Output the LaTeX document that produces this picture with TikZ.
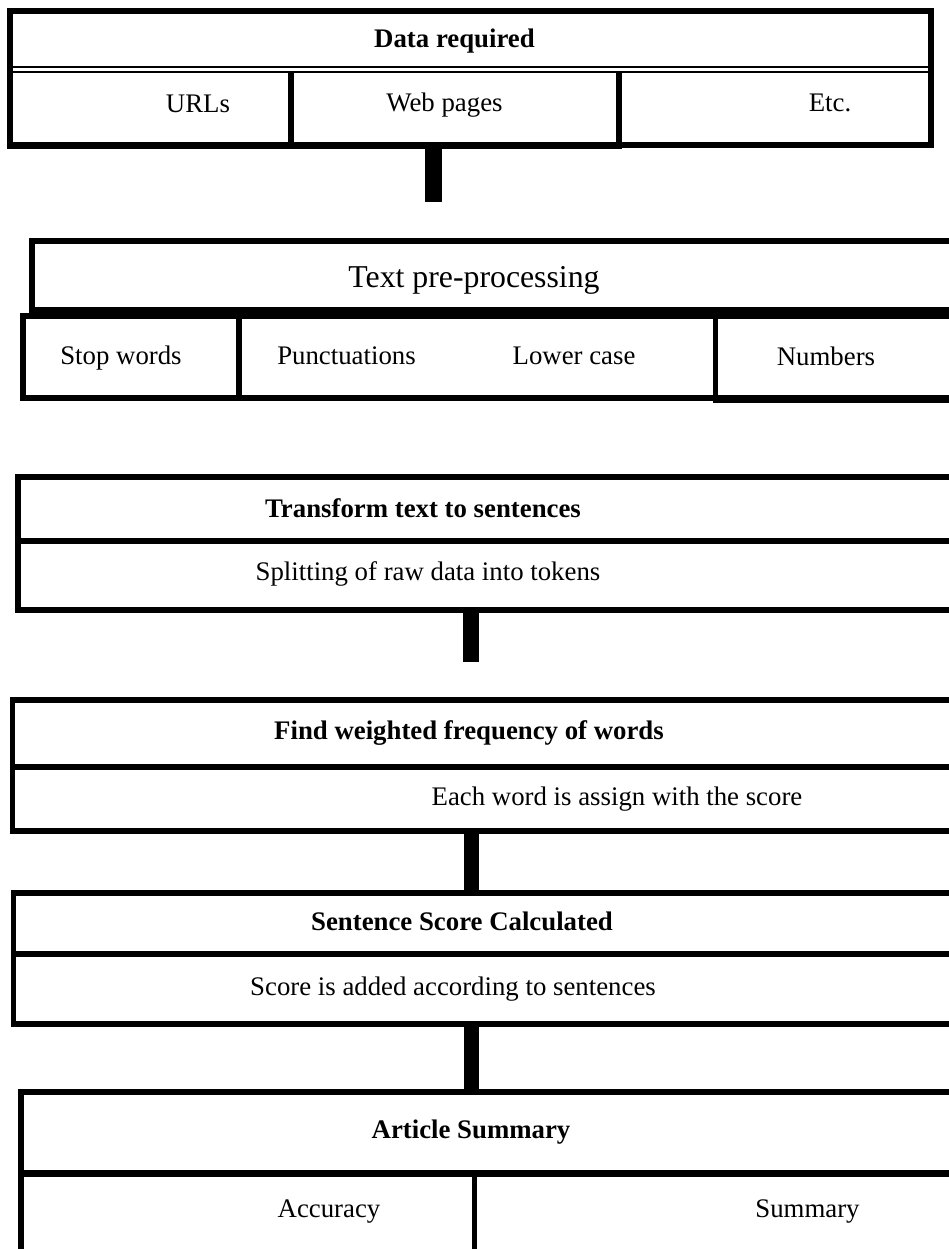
\documentclass[tikz,border=0pt]{standalone}
\usepackage{fontspec}
\setmainfont{Liberation Serif}
\begin{document}
\begin{tikzpicture}[x=1pt,y=-1pt,
  frame/.style={draw, line width=5.8pt, inner sep=0pt, outer sep=0pt, anchor=north west, rectangle},
  conn/.style={line width=15.5pt},
  rule/.style={line width=5.8pt},
  thinrule/.style={line width=2.3pt},
  txt/.style={font=\fontsize{26.8}{32}\selectfont, anchor=base, inner sep=0pt},
  btxt/.style={font=\fontsize{26.8}{32}\selectfont\bfseries, anchor=base, inner sep=0pt},
  bigtxt/.style={font=\fontsize{31.8}{38}\selectfont, anchor=base, inner sep=0pt}]
\useasboundingbox[fill=white] (0,0) rectangle (949,1249);

% ---- Box 1: Data required
\node[frame, minimum width=921pt, minimum height=134pt] (b1) at (10,11) {};
\fill (7,141.7) rectangle (622,149);
\draw[thinrule] (10,67.2) -- (931,67.2);
\draw[thinrule] (10,72) -- (931,72);
\draw[line width=5.5pt] (291,72) -- (291,145);
\draw[line width=6pt] (619,72) -- (619,145);
\node[btxt] (t1) at (454.5,47.3) {Data required};
\node[txt] (t1a) at (198,112.5) {URLs};
\node[txt] (t1b) at (444.5,112) {Web pages};
\node[txt] (t1c) at (830,111.5) {Etc.};
\coordinate (c1) at (433.5,202.5);
\draw[line width=16.5pt] (b1.south -| c1) -- (c1);

% ---- Box 2: Text pre-processing
\node[frame, minimum width=928pt, minimum height=69pt] (b2t) at (32,241) {};
\node[frame, minimum width=937pt, minimum height=82pt] (b2r) at (23,316) {};
\fill (712.5,396) rectangle (960,403);
\draw[rule] (239,316) -- (239,398);
\draw[rule] (715.5,316) -- (715.5,400);
\node[bigtxt] (t2) at (474,287.5) {Text pre-processing};
\node[txt] (t2a) at (121,364.3) {Stop words};
\node[txt] (t2b) at (346.5,364.3) {Punctuations};
\node[txt] (t2c) at (574,364.3) {Lower case};
\node[txt] (t2d) at (826,365) {Numbers};

% ---- Box 3: Transform text to sentences
\node[frame, minimum width=942pt, minimum height=133pt] (b3) at (18,477) {};
\draw[rule] (18,541) -- (960,541);
\node[btxt] (t3) at (423,517.3) {Transform text to sentences};
\node[txt] (t3a) at (428,580.7) {Splitting of raw data into tokens};
\coordinate (c2) at (471,662);
\draw[conn] (b3.south -| c2) -- (c2);

% ---- Box 4: Find weighted frequency of words
\node[frame, minimum width=947.5pt, minimum height=131pt] (b4) at (12.5,700) {};
\draw[rule] (12.5,767) -- (960,767);
\node[btxt] (t4) at (469,739.5) {Find weighted frequency of words};
\node[txt] (t4a) at (617,805) {Each word is assign with the score};

% ---- Box 5: Sentence Score Calculated
\node[frame, minimum width=946.5pt, minimum height=131pt] (b5) at (13.5,893) {};
\draw[rule] (13.5,954) -- (960,954);
\node[btxt] (t5) at (462,930.5) {Sentence Score Calculated};
\node[txt] (t5a) at (453,995) {Score is added according to sentences};

% ---- Box 6: Article Summary
\node[frame, minimum width=939pt, minimum height=170pt] (b6) at (21,1092) {};
\draw[line width=7pt] (21,1173) -- (960,1173);
\draw[rule] (474.5,1173) -- (474.5,1262);
\node[btxt] (t6) at (471,1138) {Article Summary};
\node[txt] (t6a) at (329,1217) {Accuracy};
\node[txt] (t6b) at (807.5,1217) {Summary};

% ---- connectors
\coordinate (c3) at (471.5,0);
\draw[conn] (b4.south -| c3) -- (b5.north -| c3);
\draw[conn] (b5.south -| c3) -- (b6.north -| c3);
\end{tikzpicture}
\end{document}
